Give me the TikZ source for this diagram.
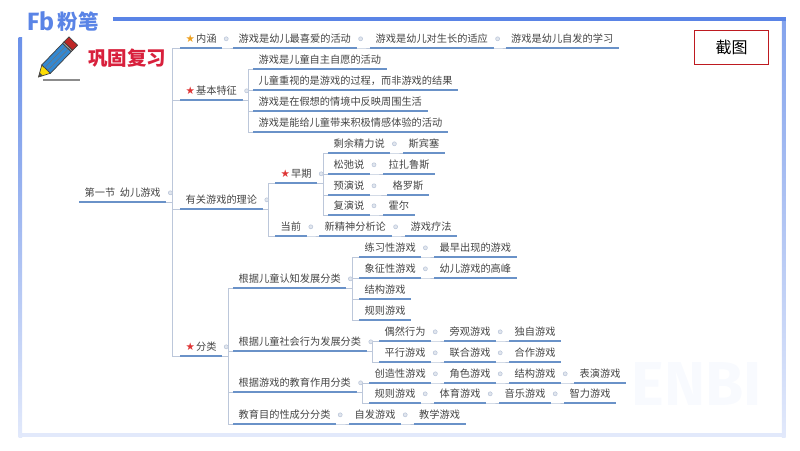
\documentclass[tikz,border=0pt]{standalone}
\usepackage{fontspec}
\setmainfont{Noto Sans CJK SC}
\newfontfamily\symbfont{DejaVu Sans}
\newfontfamily\logofont{Fira Sans}
\usepackage{xcolor}
\usetikzlibrary{
calc,
backgrounds
}
\definecolor{barblue}{HTML}{5A84E6}
\definecolor{palebar}{HTML}{E2E9FB}
\definecolor{underblue}{HTML}{6A92C8}
\definecolor{linkgrey}{HTML}{BCC7DA}
\definecolor{inkgrey}{HTML}{444444}
\definecolor{titlered}{HTML}{D8203C}
\definecolor{boxred}{HTML}{BE1A20}
\newcommand{\gstar}{{\symbfont\fontsize{10.5}{10}\selectfont\textcolor[HTML]{EDA020}{★}}\hspace{1pt}}
\newcommand{\rstar}{{\symbfont\fontsize{10.5}{10}\selectfont\textcolor[HTML]{DE3535}{★}}\hspace{1pt}}
\tikzset{
under/.style={draw=underblue,line width=1.2pt},
topic/.style={anchor=south west,inner ysep=0pt,inner xsep=5.5pt,minimum height=18pt,
  text=inkgrey,font=\fontsize{10.2}{12}\selectfont,
  append after command={(\tikzlastnode.south west) edge[under] (\tikzlastnode.south east)}},
link/.style={draw=linkgrey,line width=.8pt},
knob/.style={draw=linkgrey,fill=linkgrey!45,line width=.6pt}
}
\begin{document}
\begin{tikzpicture}[x=1pt,y=-1pt]
      \useasboundingbox (0,0) rectangle (800,450);
      % frame
      \fill[palebar] (18.5,433) rectangle (785.5,437);
      \fill[top color=barblue!90,bottom color=palebar] (18.5,37) rectangle (22,437);
      \fill[top color=barblue!75,bottom color=palebar] (781.8,17.5) rectangle (785.5,437);
      \fill[barblue] (113,17.3) rectangle (785.5,20.8);
      % watermark
      \node[text=barblue!4,font=\fontsize{62}{62}\selectfont\logofont\bfseries] (mark) at (697,384) {ENBI};
      % logo and title
      \node[text=barblue,font=\fontsize{25}{25}\selectfont\logofont\bfseries,inner sep=0pt] (logoa) at (40.5,21.5) {Fb};
      \node[text=barblue,font=\fontsize{20.5}{21}\selectfont\bfseries,inner sep=0pt] (logob) at (78,21.5) {粉笔};
      \node[text=titlered,font=\fontsize{19.5}{20}\selectfont\bfseries,inner sep=0pt] (title) at (127,58) {巩固复习};
      \node[draw=boxred,line width=1.2pt,minimum width=74pt,minimum height=34pt,inner sep=0pt,font=\fontsize{16}{18}\selectfont] (shot) at (731.5,47.5) {截图};
      % pencil
      \begin{scope}[shift={(38.5,77)},rotate=46,draw=black!75,line width=.7pt]
        \filldraw[fill=yellow!80!orange] (0,0) -- (11,-6) -- (11,6) -- cycle;
        \fill[black!70] (0,0) -- (4,-2.2) -- (4,2.2) -- cycle;
        \filldraw[fill=cyan!60!blue!85] (11,-6) rectangle (41,6);
        \draw[black!55,line width=.5pt] (11,-2) -- (41,-2) (11,2) -- (41,2);
        \filldraw[fill=black!35] (41,-6) rectangle (43,6);
        \filldraw[fill=red!70!black!85] (43,-6) rectangle (50,6);
      \end{scope}
      \draw[black!45,line width=1.2pt] (43,80) -- (80,80);
      % topics: name/x/underline y/text
      \foreach \n/\x/\y/\t in {
        root/79/202/第一节\ \ 幼儿游戏,
        neihan/180/48/\gstar 内涵,
        na/233/48/游戏是幼儿最喜爱的活动,
        nb/370/48/游戏是幼儿对生长的适应,
        nc/505.5/48/游戏是幼儿自发的学习,
        tezheng/180/100/\rstar 基本特征,
        ta/253/69/游戏是儿童自主自愿的活动,
        tb/253/90/儿童重视的是游戏的过程，而非游戏的结果,
        tc/253/111/游戏是在假想的情境中反映周围生活,
        td/253/132/游戏是能给儿童带来积极情感体验的活动,
        lilun/180/209/有关游戏的理论,
        zaoqi/275/183/\rstar 早期,
        za/328/153/剩余精力说,
        zb/403/153/斯宾塞,
        zc/328/174/松弛说,
        zd/383/174/拉扎鲁斯,
        ze/328/195/预演说,
        zf/387/195/格罗斯,
        zg/328/215/复演说,
        zh/383/215/霍尔,
        dangqian/275/236/当前,
        da/319/236/新精神分析论,
        db/405/236/游戏疗法,
        fenlei/180/356/\rstar 分类,
        renzhi/233/288/根据儿童认知发展分类,
        ra/359/257/练习性游戏,
        rb/434/257/最早出现的游戏,
        rc/359/278/象征性游戏,
        rd/434/278/幼儿游戏的高峰,
        re/359/299/结构游戏,
        rf/359/320/规则游戏,
        shehui/233/351/根据儿童社会行为发展分类,
        sa/379/341/偶然行为,
        sb/444/341/旁观游戏,
        sc/509/341/独自游戏,
        sd/379/362/平行游戏,
        se/444/362/联合游戏,
        sf/509/362/合作游戏,
        zuoyong/233/392/根据游戏的教育作用分类,
        ja/369/383/创造性游戏,
        jb/444/383/角色游戏,
        jc/509/383/结构游戏,
        jd/574/383/表演游戏,
        je/369/403/规则游戏,
        jf/434/403/体育游戏,
        jg/499/403/音乐游戏,
        jh/564/403/智力游戏,
        xingzhi/233/424/教育目的性成分分类,
        xa/349/424/自发游戏,
        xb/413.5/424/教学游戏%
      }
        \node[topic] (\n) at (\x,\y) {\t};
      % connectors
      \foreach \a/\b in {root/neihan,root/tezheng,root/lilun,root/fenlei,
        neihan/na,na/nb,nb/nc,
        tezheng/ta,tezheng/tb,tezheng/tc,tezheng/td,
        lilun/zaoqi,lilun/dangqian,dangqian/da,da/db,
        zaoqi/za,zaoqi/zc,zaoqi/ze,zaoqi/zg,za/zb,zc/zd,ze/zf,zg/zh,
        fenlei/renzhi,fenlei/shehui,fenlei/zuoyong,fenlei/xingzhi,
        renzhi/ra,renzhi/rc,renzhi/re,renzhi/rf,ra/rb,rc/rd,
        shehui/sa,shehui/sd,sa/sb,sb/sc,sd/se,se/sf,
        zuoyong/ja,zuoyong/je,ja/jb,jb/jc,jc/jd,je/jf,jf/jg,jg/jh,
        xingzhi/xa,xa/xb}
        \draw[link] (\a.south east) -- ++(6,0) |- (\b.south west);
      % fold marks
      \foreach \n in {root,neihan,na,nb,tezheng,lilun,zaoqi,za,zc,ze,zg,dangqian,da,
        fenlei,renzhi,ra,rc,shehui,sa,sb,sd,se,zuoyong,ja,jb,jc,je,jf,jg,xingzhi,xa}
        \draw[knob] ($(\n.east)+(4,0)$) circle (2pt);
    \end{tikzpicture}
\end{document}
